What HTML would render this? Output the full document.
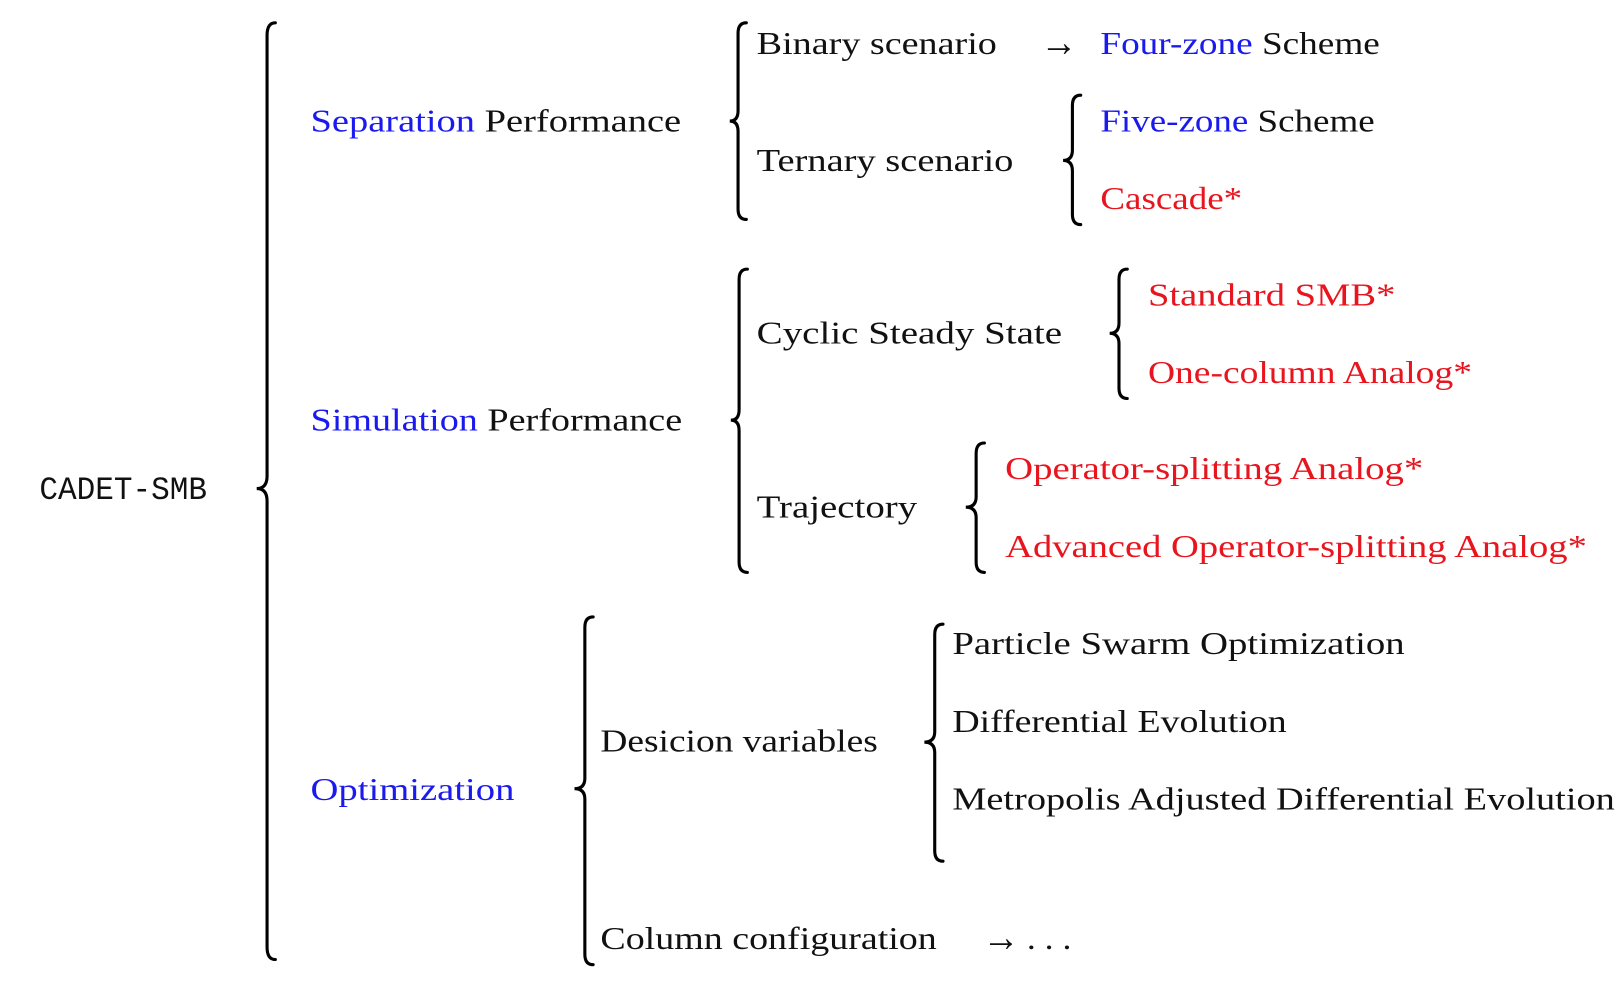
<!DOCTYPE html>
<html><head><meta charset="utf-8"><style>html,body{margin:0;padding:0;background:#fff}svg{display:block}</style></head>
<body>
<svg width="1620" height="989" viewBox="0 0 1565 955.5" preserveAspectRatio="none" xmlns="http://www.w3.org/2000/svg">
<g fill="none" stroke="#000" stroke-width="3" stroke-linecap="round">
<path d="M266 22 Q258 22 258 34 L258 460 Q258 472 248 472 Q258 472 258 484 L258 915 Q258 927 266 927"/>
<path d="M721 22 Q713 22 713 32 L713 107 Q713 117 705 117 Q713 117 713 127 L713 202 Q713 212 721 212"/>
<path d="M1044 92 Q1036 92 1036 102 L1036 145 Q1036 155 1027 155 Q1036 155 1036 165 L1036 207 Q1036 217 1044 217"/>
<path d="M722 260 Q714 260 714 270 L714 396 Q714 406 706 406 Q714 406 714 416 L714 543 Q714 553 722 553"/>
<path d="M1089 260 Q1081 260 1081 270 L1081 312 Q1081 322 1072 322 Q1081 322 1081 332 L1081 375 Q1081 385 1089 385"/>
<path d="M951 428 Q943 428 943 438 L943 480 Q943 490 933 490 Q943 490 943 500 L943 543 Q943 553 951 553"/>
<path d="M573 596 Q565 596 565 606 L565 752 Q565 762 555 762 Q565 762 565 772 L565 922 Q565 932 573 932"/>
<path d="M911 603 Q903 603 903 613 L903 707 Q903 717 893 717 Q903 717 903 727 L903 822 Q903 832 911 832"/>
</g>
<g font-family="Liberation Serif, serif" font-size="31" fill="#111">
<text x="38" y="482" font-family="Liberation Mono, monospace" textLength="162" lengthAdjust="spacingAndGlyphs">CADET-SMB</text>
<text x="300" y="127" textLength="358" lengthAdjust="spacingAndGlyphs"><tspan fill="#1a1aee">Separation</tspan> Performance</text>
<text x="300" y="416" textLength="359" lengthAdjust="spacingAndGlyphs"><tspan fill="#1a1aee">Simulation</tspan> Performance</text>
<text x="300" y="773" textLength="197" lengthAdjust="spacingAndGlyphs" fill="#1a1aee">Optimization</text>
<text x="731" y="52" textLength="232" lengthAdjust="spacingAndGlyphs">Binary scenario</text>
<text x="1005" y="54" font-size="40" textLength="36" lengthAdjust="spacingAndGlyphs">→</text>
<text x="1063" y="52" textLength="270" lengthAdjust="spacingAndGlyphs"><tspan fill="#1a1aee">Four-zone</tspan> Scheme</text>
<text x="731" y="165" textLength="248" lengthAdjust="spacingAndGlyphs">Ternary scenario</text>
<text x="1063" y="127" textLength="265" lengthAdjust="spacingAndGlyphs"><tspan fill="#1a1aee">Five-zone</tspan> Scheme</text>
<text x="1063" y="202" textLength="137" lengthAdjust="spacingAndGlyphs" fill="#e8141e">Cascade*</text>
<text x="731" y="332" textLength="295" lengthAdjust="spacingAndGlyphs">Cyclic Steady State</text>
<text x="1109" y="295" textLength="239" lengthAdjust="spacingAndGlyphs" fill="#e8141e">Standard SMB*</text>
<text x="1109" y="370" textLength="313" lengthAdjust="spacingAndGlyphs" fill="#e8141e">One-column Analog*</text>
<text x="731" y="500" textLength="155" lengthAdjust="spacingAndGlyphs">Trajectory</text>
<text x="971" y="463" textLength="404" lengthAdjust="spacingAndGlyphs" fill="#e8141e">Operator-splitting Analog*</text>
<text x="971" y="538" textLength="562" lengthAdjust="spacingAndGlyphs" fill="#e8141e">Advanced Operator-splitting Analog*</text>
<text x="580" y="726" textLength="268" lengthAdjust="spacingAndGlyphs">Desicion variables</text>
<text x="920" y="632" textLength="437" lengthAdjust="spacingAndGlyphs">Particle Swarm Optimization</text>
<text x="920" y="707" textLength="323" lengthAdjust="spacingAndGlyphs">Differential Evolution</text>
<text x="920" y="782" textLength="640" lengthAdjust="spacingAndGlyphs">Metropolis Adjusted Differential Evolution</text>
<text x="580" y="917" textLength="325" lengthAdjust="spacingAndGlyphs">Column configuration</text>
<text x="949" y="919" font-size="40" textLength="36" lengthAdjust="spacingAndGlyphs">→</text>
<text x="992" y="917" textLength="43" lengthAdjust="spacingAndGlyphs">. . .</text>
</g>
</svg>
</body></html>
